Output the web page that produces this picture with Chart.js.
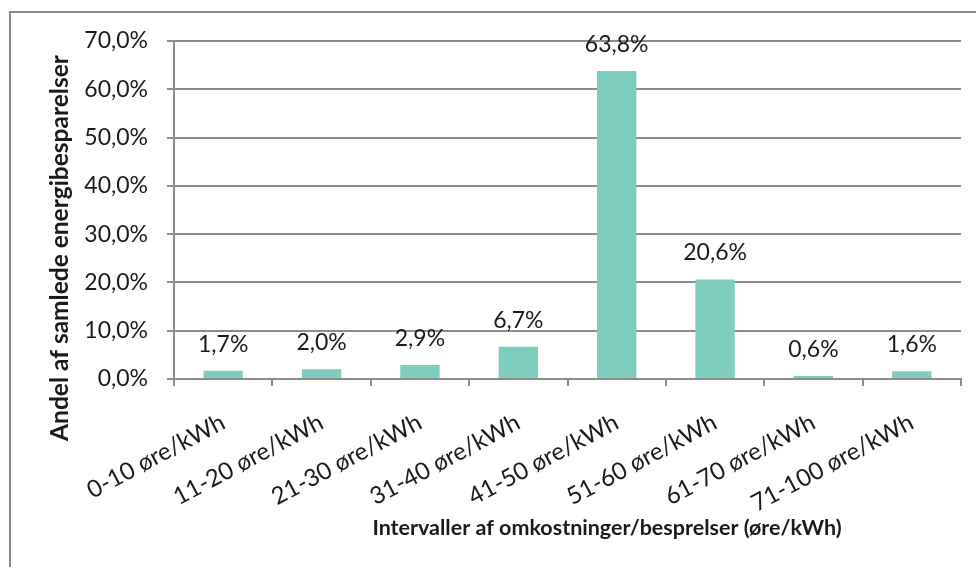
<!DOCTYPE html>
<html>
<head>
<meta charset="utf-8">
<script src="https://cdn.jsdelivr.net/npm/chart.js@4"></script>
<style>
  html, body { margin: 0; padding: 0; background: #fff; }
  #wrap { position: relative; width: 976px; height: 567px; overflow: hidden; }
  #frame { position: absolute; left: 9px; top: 11px; width: 1100px; height: 700px;
           border-left: 2px solid #8c8c8c; border-top: 2px solid #8c8c8c; }
  canvas { position: absolute; left: 0; top: 0; }
</style>
</head>
<body>
<div id="wrap">
  <div id="frame"></div>
  <canvas id="myBar" width="976" height="567"></canvas>
</div>
<script>
const categories = ['0-10 øre/kWh','11-20 øre/kWh','21-30 øre/kWh','31-40 øre/kWh','41-50 øre/kWh','51-60 øre/kWh','61-70 øre/kWh','71-100 øre/kWh'];
const shares = [1.7, 2.0, 2.9, 6.7, 63.8, 20.6, 0.6, 1.6];
const yTicks = [0, 10, 20, 30, 40, 50, 60, 70];
const xTitle = 'Intervaller af omkostninger/besprelser (øre/kWh)';
const yTitle = 'Andel af samlede energibesparelser';

const fontName = 'Lato, "Open Sans", sans-serif';

function pct(v){
  return v.toFixed(1).replace('.', ',') + '%';
}

// labels above the bars + axis titles
const barLabels = {
  id: 'barLabels',
  afterDatasetsDraw(chart){
    const ctx = chart.ctx;
    const meta = chart.getDatasetMeta(0);
    ctx.save();
    ctx.font = '23px ' + fontName;
    ctx.fillStyle = '#1a1a1a';
    ctx.textAlign = 'center';
    ctx.textBaseline = 'bottom';
    meta.data.forEach((bar, i) => {
      ctx.fillText(pct(shares[i]), bar.x, bar.y - 15);
    });

    ctx.textBaseline = 'middle';
    ctx.font = 'bold 21.5px ' + fontName;
    ctx.fillText(xTitle, 607, 528);

    ctx.translate(60, 248);
    ctx.rotate(-Math.PI / 2);
    ctx.font = 'bold 24.5px ' + fontName;
    ctx.fillText(yTitle, 0, 0);
    ctx.restore();
  }
};

const ctx = document.getElementById('myBar').getContext('2d');
const myBar = new Chart(ctx, {
  type: 'bar',
  data: {
    labels: categories,
    datasets: [{
      data: shares,
      backgroundColor: '#7fcdbe',
      borderWidth: 0,
      barPercentage: 0.4,
      categoryPercentage: 1.0
    }]
  },
  options: {
    responsive: false,
    animation: false,
    layout: { padding: { left: 44, right: 15, top: 41, bottom: 26 } },
    plugins: {
      legend: { display: false },
      tooltip: { enabled: false }
    },
    scales: {
      x: {
        afterFit(scale){ scale.height = 162; },
        grid: { offset: true, drawOnChartArea: false, color: '#8c8c8c', lineWidth: 2, tickLength: 7 },
        border: { color: '#8c8c8c', width: 2 },
        ticks: {
          font: { family: fontName, size: 24 },
          color: '#1a1a1a',
          minRotation: 28,
          maxRotation: 28,
          padding: 22
        }
      },
      y: {
        min: 0,
        max: 70,
        afterFit(scale){ scale.width = 130; },
        afterBuildTicks(scale){ scale.ticks = yTicks.map(v => ({ value: v })); },
        grid: { color: '#8c8c8c', lineWidth: 2, tickLength: 7 },
        border: { color: '#8c8c8c', width: 2 },
        ticks: {
          font: { family: fontName, size: 23 },
          color: '#1a1a1a',
          padding: 19,
          callback: v => pct(v)
        }
      }
    }
  },
  plugins: [barLabels]
});
</script>
</body>
</html>
